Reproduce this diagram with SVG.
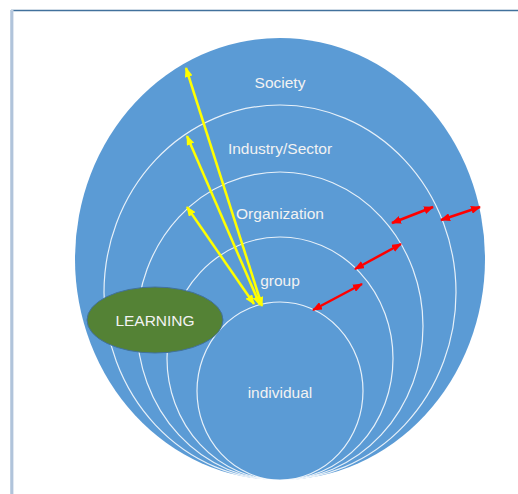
<svg xmlns="http://www.w3.org/2000/svg" width="518" height="494" viewBox="0 0 518 494">
  <style>
    .ring { fill: #5b9bd5; stroke: #ffffff; stroke-width: 1.2; stroke-opacity: 0.85; }
    .outer { fill: #5b9bd5; }
    .lbl { font-family: "Liberation Sans", Arial, sans-serif; font-size: 15.5px; fill: #f2f2f2; text-anchor: middle; }
    .yel { stroke: #ffff00; stroke-width: 2.5; fill: none; marker-start: url(#ahY); marker-end: url(#ahY); }
    .red { stroke: #ff0000; stroke-width: 2.5; fill: none; marker-start: url(#ahR); marker-end: url(#ahR); }
  </style>
  <defs>
    <marker id="ahY" viewBox="0 0 10 8" refX="9" refY="4" markerWidth="10" markerHeight="8" markerUnits="userSpaceOnUse" orient="auto-start-reverse">
      <path d="M0,0 L10,4 L0,8 z" fill="#ffff00"/>
    </marker>
    <marker id="ahR" viewBox="0 0 10 8" refX="9" refY="4" markerWidth="10" markerHeight="8" markerUnits="userSpaceOnUse" orient="auto-start-reverse">
      <path d="M0,0 L10,4 L0,8 z" fill="#ff0000"/>
    </marker>
  </defs>

  <rect width="518" height="494" fill="#ffffff"/>

  <!-- page frame -->
  <g id="frame">
    <line x1="11" y1="10.5" x2="518" y2="10.5" stroke="#41719c" stroke-width="1.3"/>
    <rect x="10" y="10" width="3.5" height="484" fill="#c2d1e3"/>
    <line x1="12" y1="11" x2="12" y2="494" stroke="#9fb6d2" stroke-width="1"/>
  </g>

  <!-- nested levels, all touching at the bottom -->
  <g id="society">
    <ellipse class="outer" cx="280" cy="259" rx="205" ry="221"/>
    <text class="lbl" x="280" y="88">Society</text>
  </g>
  <g id="industry">
    <ellipse class="ring" cx="280" cy="292.5" rx="176" ry="187.5"/>
    <text class="lbl" x="280" y="154">Industry/Sector</text>
  </g>
  <g id="organization">
    <ellipse class="ring" cx="280" cy="326" rx="143" ry="154"/>
    <text class="lbl" x="280" y="219">Organization</text>
  </g>
  <g id="group">
    <ellipse class="ring" cx="280" cy="358.5" rx="113" ry="121.5"/>
    <text class="lbl" x="280" y="286">group</text>
  </g>
  <g id="individual">
    <ellipse class="ring" cx="280" cy="391" rx="83" ry="89"/>
    <text class="lbl" x="280" y="398">individual</text>
  </g>

  <g id="learning">
    <ellipse cx="155" cy="320" rx="68" ry="33" fill="#548235" stroke="#41719c" stroke-width="1"/>
    <text class="lbl" x="155" y="326">LEARNING</text>
  </g>

  <!-- connectors -->
  <g id="connectors">
    <line class="yel" x1="262" y1="306" x2="186" y2="68"/>
    <line class="yel" x1="260" y1="305" x2="187" y2="136"/>
    <line class="yel" x1="254" y1="304" x2="187" y2="207"/>
    <line class="red" x1="313" y1="310" x2="362" y2="284"/>
    <line class="red" x1="355" y1="269" x2="401" y2="244"/>
    <line class="red" x1="392" y1="223" x2="433" y2="207"/>
    <line class="red" x1="441" y1="220" x2="480" y2="207"/>
  </g>
</svg>
